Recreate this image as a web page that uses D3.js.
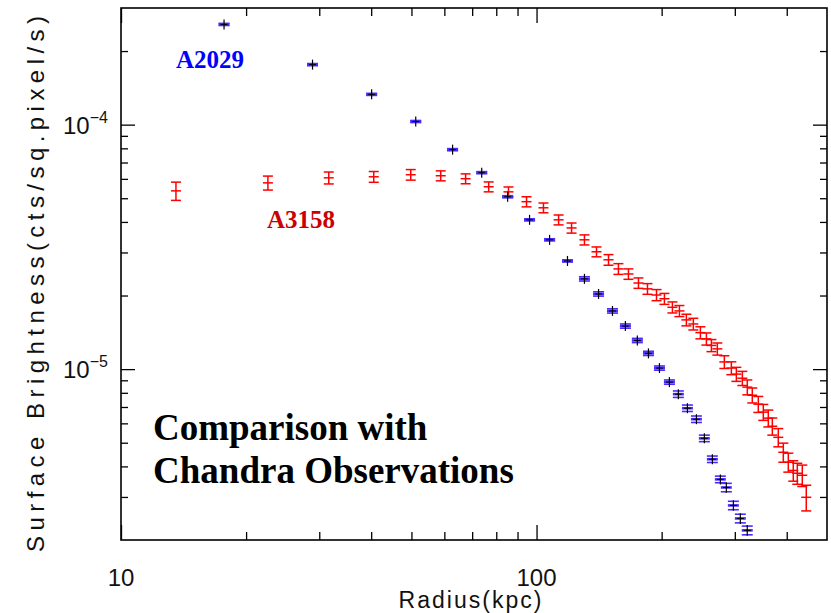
<!DOCTYPE html>
<html>
<head>
<meta charset="utf-8">
<script src="https://cdn.jsdelivr.net/npm/d3@7"></script>
<style>
  body { margin: 0; background: #fff; }
</style>
</head>
<body>
<svg width="831" height="613"></svg>
<script>
// A2029 surface brightness profile (radius kpc, cts/sq.pixel/s, error)
var a2029R = [17.7, 28.9, 40.1, 51.2, 62.8, 73.8, 85.2, 96.2, 107.5, 118.7,
              130.4, 141, 152.3, 163.6, 174.8, 185.9, 197.6, 208.8, 219.4, 230.7,
              242.5, 253.4, 264.9, 276.9, 286.2, 297.6, 309.3, 321.4];
var a2029V = [2.57e-4, 1.76e-4, 1.33e-4, 1.03e-4, 7.9e-5, 6.36e-5, 5.07e-5, 4.08e-5, 3.38e-5, 2.77e-5,
              2.34e-5, 2.03e-5, 1.73e-5, 1.50e-5, 1.31e-5, 1.16e-5, 1.01e-5, 8.85e-6, 7.9e-6, 6.92e-6,
              6.24e-6, 5.21e-6, 4.28e-6, 3.54e-6, 3.28e-6, 2.77e-6, 2.45e-6, 2.19e-6];
var a2029E = [2.6e-6, 1.8e-6, 1.3e-6, 1.0e-6, 0.8e-6, 0.64e-6, 0.5e-6, 0.4e-6, 0.34e-6, 0.28e-6,
              0.47e-6, 0.41e-6, 0.35e-6, 0.3e-6, 0.26e-6, 0.23e-6, 0.2e-6, 0.18e-6, 0.24e-6, 0.21e-6,
              0.19e-6, 0.16e-6, 0.13e-6, 0.11e-6, 0.13e-6, 0.11e-6, 0.1e-6, 0.09e-6];

// A3158 surface brightness profile
var a3158R = [13.56, 22.57, 31.62, 40.57, 49.8, 58.8, 67.5, 76.7, 85.6, 94.6,
              103.9, 113, 121.4, 130.4, 139.4, 149, 157.4, 166.4, 175.9, 184.9,
              194.4, 203.1, 212.3, 220.7, 229.4, 238.4, 247.9, 256.3, 263.5, 272.3,
              283.1, 294.3, 302.6, 312.8, 321.5, 330.5, 341.7, 351.3, 361.2, 369.3,
              381.7, 392.5, 403.5, 414.8, 424.1, 436, 445.7];
var a3158V = [5.36e-5, 5.78e-5, 6.06e-5, 6.12e-5, 6.24e-5, 6.18e-5, 6.01e-5, 5.57e-5, 5.31e-5, 4.84e-5,
              4.57e-5, 4.08e-5, 3.78e-5, 3.38e-5, 3.02e-5, 2.80e-5, 2.57e-5, 2.45e-5, 2.25e-5, 2.13e-5,
              2.01e-5, 1.94e-5, 1.79e-5, 1.73e-5, 1.59e-5, 1.53e-5, 1.41e-5, 1.33e-5, 1.25e-5, 1.21e-5,
              1.07e-5, 1.01e-5, 9.54e-6, 9.18e-6, 8.44e-6, 7.82e-6, 7.19e-6, 6.67e-6, 6.30e-6, 5.84e-6,
              5.26e-6, 4.57e-6, 4.16e-6, 3.85e-6, 3.75e-6, 3.68e-6, 2.99e-6];
var a3158E = [4.6e-6, 3.8e-6, 3.4e-6, 3.1e-6, 3.1e-6, 2.9e-6, 2.8e-6, 2.6e-6, 2.5e-6, 2.3e-6,
              2.1e-6, 1.9e-6, 1.8e-6, 1.6e-6, 1.4e-6, 1.4e-6, 1.3e-6, 1.2e-6, 1.1e-6, 1.07e-6,
              1.05e-6, 1.0e-6, 0.93e-6, 0.9e-6, 0.87e-6, 0.84e-6, 0.8e-6, 0.76e-6, 0.71e-6, 0.69e-6,
              0.64e-6, 0.61e-6, 0.63e-6, 0.61e-6, 0.59e-6, 0.55e-6, 0.54e-6, 0.5e-6, 0.5e-6, 0.47e-6,
              0.45e-6, 0.41e-6, 0.37e-6, 0.37e-6, 0.37e-6, 0.37e-6, 0.36e-6];

var xMajor = [10, 100];
var xMinor = [20, 30, 40, 50, 60, 70, 80, 90, 200, 300, 400];
var yMajor = [1e-4, 1e-5];
var yMinor = [3e-6, 4e-6, 5e-6, 6e-6, 7e-6, 8e-6, 9e-6, 2e-5, 3e-5, 4e-5, 5e-5, 6e-5, 7e-5, 8e-5, 9e-5, 2e-4];

var svg = d3.select("svg"),
    pL = 121, pR = 827, pT = 8, pB = 540;

var x = d3.scaleLog().domain([10, 500]).range([pL, pR]);
var y = d3.scaleLog().domain([2e-6, 3e-4]).range([pB, pT]);

var a2029 = a2029R.map(function(r, i) { return {r: r, v: a2029V[i], e: a2029E[i]}; });
var a3158 = a3158R.map(function(r, i) { return {r: r, v: a3158V[i], e: a3158E[i]}; });

// ticks on all four sides, pointing inward
function ticks(axis, vals, size, tr) {
  svg.append("g")
      .attr("transform", tr)
      .call(axis.tickValues(vals).tickSize(-size).tickFormat(""))
      .call(function(g) { g.select(".domain").remove(); })
      .selectAll("line").attr("stroke", "#000").attr("stroke-width", 1.3);
}
ticks(d3.axisBottom(x), xMajor, 15, "translate(0," + pB + ")");
ticks(d3.axisBottom(x), xMinor, 8, "translate(0," + pB + ")");
ticks(d3.axisTop(x), xMajor, 15, "translate(0," + pT + ")");
ticks(d3.axisTop(x), xMinor, 8, "translate(0," + pT + ")");
ticks(d3.axisLeft(y), yMajor, 14, "translate(" + pL + ",0)");
ticks(d3.axisLeft(y), yMinor, 7, "translate(" + pL + ",0)");
ticks(d3.axisRight(y), yMajor, 14, "translate(" + pR + ",0)");
ticks(d3.axisRight(y), yMinor, 7, "translate(" + pR + ",0)");

svg.append("rect")
    .attr("x", pL).attr("y", pT)
    .attr("width", pR - pL).attr("height", pB - pT)
    .attr("fill", "none").attr("stroke", "#000").attr("stroke-width", 1.6);

var sans = "'Liberation Sans', 'DejaVu Sans', sans-serif";

svg.selectAll(".xlab").data(xMajor).enter().append("text")
    .attr("x", function(d) { return x(d); })
    .attr("y", 586)
    .attr("text-anchor", "middle")
    .attr("font-family", sans).attr("font-size", 24).attr("fill", "#111")
    .text(function(d) { return d; });

var ylab = svg.selectAll(".ylab").data(yMajor).enter().append("text")
    .attr("x", 63)
    .attr("y", function(d) { return y(d) + 9; })
    .attr("font-family", sans).attr("font-size", 24).attr("fill", "#111");
ylab.append("tspan").text("10");
ylab.append("tspan").attr("dy", -11).attr("font-size", 16)
    .text(function(d) { return "\u2212" + Math.round(-Math.log10(d)); });

svg.append("text")
    .attr("x", 470).attr("y", 608)
    .attr("text-anchor", "middle")
    .attr("font-family", sans).attr("font-size", 23).attr("fill", "#111")
    .attr("textLength", 143).attr("lengthAdjust", "spacing")
    .text("Radius(kpc)");

svg.append("text")
    .attr("transform", "translate(44,284) rotate(-90)")
    .attr("text-anchor", "middle")
    .attr("font-family", sans).attr("font-size", 24).attr("fill", "#111")
    .attr("textLength", 536).attr("lengthAdjust", "spacing")
    .text("Surface Brightness(cts/sq.pixel/s)");

// A3158: red error bars with caps and a centre tick
var red = svg.append("g").attr("stroke", "#ff0000").attr("stroke-width", 1.5);
var rg = red.selectAll("g").data(a3158).enter().append("g");
rg.append("line")
    .attr("x1", function(d) { return x(d.r); }).attr("x2", function(d) { return x(d.r); })
    .attr("y1", function(d) { return y(d.v + d.e); }).attr("y2", function(d) { return y(d.v - d.e); });
[-1, 0, 1].forEach(function(s) {
  rg.append("line")
      .attr("x1", function(d) { return x(d.r) - 5; }).attr("x2", function(d) { return x(d.r) + 5; })
      .attr("y1", function(d) { return y(d.v + s * d.e); }).attr("y2", function(d) { return y(d.v + s * d.e); });
});

// A2029: blue error bars with a black cross on top
var blue = svg.append("g");
var bg = blue.selectAll("g").data(a2029).enter().append("g");
[-1, 0, 1].forEach(function(s) {
  bg.append("line")
      .attr("stroke", "#4a2bff").attr("stroke-width", s === 0 ? 2.6 : 1.6)
      .attr("x1", function(d) { return x(d.r) - 5.5; }).attr("x2", function(d) { return x(d.r) + 5.5; })
      .attr("y1", function(d) { return y(d.v + s * d.e); }).attr("y2", function(d) { return y(d.v + s * d.e); });
});
bg.append("line")
    .attr("stroke", "#000").attr("stroke-width", 1.2)
    .attr("x1", function(d) { return x(d.r); }).attr("x2", function(d) { return x(d.r); })
    .attr("y1", function(d) { return Math.min(y(d.v) - 5, y(d.v + d.e) - 1); })
    .attr("y2", function(d) { return Math.max(y(d.v) + 5, y(d.v - d.e) + 1); });
bg.append("line")
    .attr("stroke", "#000").attr("stroke-width", 1)
    .attr("x1", function(d) { return x(d.r) - 3.5; }).attr("x2", function(d) { return x(d.r) + 3.5; })
    .attr("y1", function(d) { return y(d.v); }).attr("y2", function(d) { return y(d.v); });

var serif = "'Liberation Serif', 'Times New Roman', serif";
svg.append("text").attr("x", 176).attr("y", 68)
    .attr("font-family", serif).attr("font-weight", "bold").attr("font-size", 25)
    .attr("fill", "#0000ff").text("A2029");
svg.append("text").attr("x", 267).attr("y", 228)
    .attr("font-family", serif).attr("font-weight", "bold").attr("font-size", 25)
    .attr("fill", "#cc0000").text("A3158");
svg.append("text").attr("x", 153).attr("y", 440)
    .attr("font-family", serif).attr("font-weight", "bold").attr("font-size", 37)
    .text("Comparison with");
svg.append("text").attr("x", 153).attr("y", 483)
    .attr("font-family", serif).attr("font-weight", "bold").attr("font-size", 37)
    .text("Chandra Observations");
</script>
</body>
</html>
